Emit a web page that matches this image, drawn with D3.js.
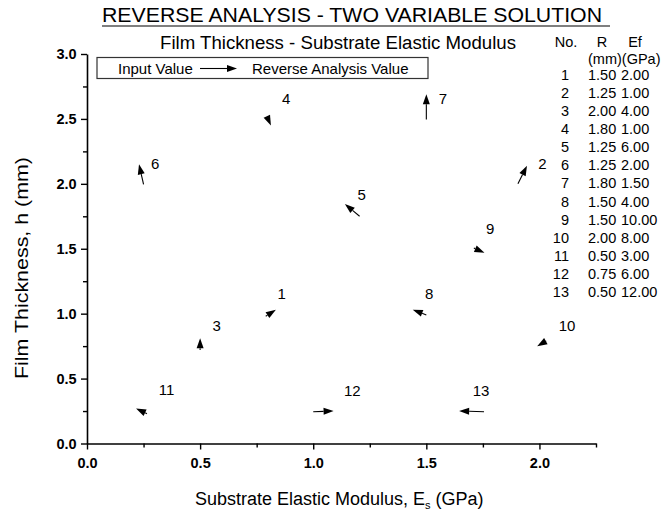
<!DOCTYPE html>
<html>
<head>
<meta charset="utf-8">
<script src="https://cdn.jsdelivr.net/npm/d3@7"></script>
<style>
  html, body { margin: 0; padding: 0; background: #fff; }
  svg { display: block; font-family: "Liberation Sans", Arial, sans-serif; }
</style>
</head>
<body>
<svg id="chart" width="662" height="513"></svg>
<script>
// Input value (tail) and reverse analysis value (head) for each case
const caseNo   = ['1', '2', '3', '4', '5', '6', '7', '8', '9', '10', '11', '12', '13'];
const inputEs  = [0.79, 1.905, 0.50, 0.795, 1.205, 0.25, 1.50, 1.50, 1.71, 2.03, 0.265, 1.00, 1.755];
const inputH   = [0.98, 2.00, 0.72, 2.52, 1.75, 1.995, 2.495, 0.99, 1.505, 0.79, 0.23, 0.245, 0.245];
const reverseEs = [0.835, 1.945, 0.50, 0.813, 1.14, 0.23, 1.50, 1.44, 1.757, 1.99, 0.217, 1.09, 1.645];
const reverseH  = [1.03, 2.14, 0.81, 2.45, 1.845, 2.15, 2.69, 1.03, 1.47, 0.75, 0.27, 0.25, 0.25];

// where each case number is written (data units)
const labelEs = [0.861, 2.013, 0.573, 0.880, 1.214, 0.301, 1.573, 1.513, 1.782, 2.122, 0.352, 1.173, 1.742];
const labelH  = [1.157, 2.159, 0.905, 2.654, 1.914, 2.159, 2.659, 1.157, 1.658, 0.905, 0.412, 0.407, 0.407];

// parameter table on the right
const tableR  = ['1.50', '1.25', '2.00', '1.80', '1.25', '1.25', '1.80', '1.50', '1.50', '2.00', '0.50', '0.75', '0.50'];
const tableEf = ['2.00', '1.00', '4.00', '1.00', '6.00', '2.00', '1.50', '4.00', '10.00', '8.00', '3.00', '6.00', '12.00'];

const xMajor = [0, 0.5, 1.0, 1.5, 2.0];
const xMinor = [0.25, 0.75, 1.25, 1.75, 2.25];
const yMajor = [0, 0.5, 1.0, 1.5, 2.0, 2.5, 3.0];
const yMinor = [0.25, 0.75, 1.25, 1.75, 2.25, 2.75];

const svg = d3.select('#chart');

const x = d3.scaleLinear().domain([0, 2.25]).range([87, 596]);
const y = d3.scaleLinear().domain([0, 3]).range([443.5, 54]);

// axes
const fmt = d3.format('.1f');
const xAxis = svg.append('g').attr('transform', `translate(0,${y(0)})`)
  .call(d3.axisBottom(x).tickValues(xMajor).tickFormat(fmt).tickSize(6).tickSizeOuter(0));
svg.append('g').attr('transform', `translate(0,${y(0)})`)
  .call(d3.axisBottom(x).tickValues(xMinor).tickFormat('').tickSize(4).tickSizeOuter(0))
  .select('.domain').remove();
const yAxis = svg.append('g').attr('transform', `translate(${x(0)},0)`)
  .call(d3.axisLeft(y).tickValues(yMajor).tickFormat(fmt).tickSize(6).tickSizeOuter(0));
svg.append('g').attr('transform', `translate(${x(0)},0)`)
  .call(d3.axisLeft(y).tickValues(yMinor).tickFormat('').tickSize(4).tickSizeOuter(0))
  .select('.domain').remove();

svg.selectAll('.domain').attr('stroke', '#000').attr('stroke-width', 1.6);
svg.selectAll('.tick line').attr('stroke', '#000').attr('stroke-width', 1.4);
svg.selectAll('.tick text')
  .attr('fill', '#000')
  .style('font-family', '"Liberation Sans", Arial, sans-serif')
  .style('font-size', '14.5px')
  .style('font-weight', 'bold');
xAxis.selectAll('.tick text').attr('dy', '1.05em');
yAxis.selectAll('.tick text').attr('dx', '-0.1em');

// axis titles
const xt = svg.append('text')
  .attr('x', 195).attr('y', 505)
  .style('font-size', '18px');
xt.append('tspan').text('Substrate Elastic Modulus, E');
xt.append('tspan').attr('dy', 4).style('font-size', '11px').text('s');
xt.append('tspan').attr('dy', -4).text(' (GPa)');

svg.append('text')
  .attr('transform', `translate(28,268) rotate(-90)`)
  .attr('text-anchor', 'middle')
  .style('font-size', '18.5px')
  .attr('textLength', 222).attr('lengthAdjust', 'spacingAndGlyphs')
  .text('Film Thickness, h (mm)');

// titles
svg.append('text')
  .attr('x', 102).attr('y', 22)
  .style('font-size', '19.5px')
  .attr('textLength', 500).attr('lengthAdjust', 'spacingAndGlyphs')
  .text('REVERSE ANALYSIS - TWO VARIABLE SOLUTION');
svg.append('line')
  .attr('x1', 102).attr('x2', 610).attr('y1', 26).attr('y2', 26)
  .attr('stroke', '#000').attr('stroke-width', 1.2);
svg.append('text')
  .attr('x', 160).attr('y', 49)
  .style('font-size', '18px')
  .attr('textLength', 356).attr('lengthAdjust', 'spacingAndGlyphs')
  .text('Film Thickness - Substrate Elastic Modulus');

// arrow helper: line from tail to head with a filled triangular head
const headLen = 10, headHalf = 3.5;
function drawArrow(g, x1, y1, x2, y2) {
  const dx = x2 - x1, dy = y2 - y1;
  const len = Math.hypot(dx, dy) || 1;
  const ux = dx / len, uy = dy / len;
  const bx = x2 - ux * headLen, by = y2 - uy * headLen;
  if (len > headLen) {
    g.append('line')
      .attr('x1', x1).attr('y1', y1).attr('x2', bx).attr('y2', by)
      .attr('stroke', '#000').attr('stroke-width', 1.1);
  }
  g.append('polygon')
    .attr('points', [
      [x2, y2],
      [bx - uy * headHalf, by + ux * headHalf],
      [bx + uy * headHalf, by - ux * headHalf]
    ].map(p => p.join(',')).join(' '))
    .attr('fill', '#000');
}

// legend box
const leg = svg.append('g');
leg.append('rect')
  .attr('x', 97).attr('y', 57.5).attr('width', 331).attr('height', 21)
  .attr('fill', '#fff').attr('stroke', '#333').attr('stroke-width', 1.2);
leg.append('text').attr('x', 118).attr('y', 74)
  .style('font-size', '15px').text('Input Value');
drawArrow(leg, 200, 68.5, 237, 68.5);
leg.append('text').attr('x', 252).attr('y', 74)
  .style('font-size', '15px').text('Reverse Analysis Value');

// arrows from input to reverse analysis value
const arrows = svg.append('g');
caseNo.forEach((n, i) => {
  drawArrow(arrows, x(inputEs[i]), y(inputH[i]), x(reverseEs[i]), y(reverseH[i]));
});

svg.append('g').selectAll('text')
  .data(caseNo)
  .join('text')
  .attr('x', (d, i) => x(labelEs[i]))
  .attr('y', (d, i) => y(labelH[i]))
  .attr('text-anchor', 'middle')
  .attr('dy', '0.36em')
  .style('font-size', '15px')
  .text(d => d);

// parameter table
const table = svg.append('g').style('font-size', '14.5px');
table.append('text').attr('x', 566).attr('y', 47).attr('text-anchor', 'middle').text('No.');
table.append('text').attr('x', 602).attr('y', 47).attr('text-anchor', 'middle').text('R');
table.append('text').attr('x', 635).attr('y', 47).attr('text-anchor', 'middle').text('Ef');
table.append('text').attr('x', 588).attr('y', 64).text('(mm)(GPa)');

const rowY = i => 74.3 + i * 18.15;
table.selectAll('.no').data(caseNo).join('text')
  .attr('class', 'no')
  .attr('x', 569).attr('y', (d, i) => rowY(i)).attr('dy', '0.36em')
  .attr('text-anchor', 'end').text(d => d);
table.selectAll('.r').data(tableR).join('text')
  .attr('class', 'r')
  .attr('x', 588).attr('y', (d, i) => rowY(i)).attr('dy', '0.36em')
  .text(d => d);
table.selectAll('.ef').data(tableEf).join('text')
  .attr('class', 'ef')
  .attr('x', 621).attr('y', (d, i) => rowY(i)).attr('dy', '0.36em')
  .text(d => d);
</script>
</body>
</html>
